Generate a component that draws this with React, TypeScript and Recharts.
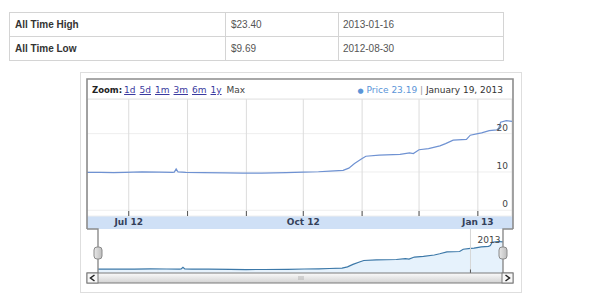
import React from "react";
import {
  LineChart,
  Line,
  AreaChart,
  Area,
  XAxis,
  YAxis,
  CartesianGrid,
  ReferenceLine,
} from "recharts";

// summary table
const statNames = ["All Time High", "All Time Low"];
const statPrices = ["$23.40", "$9.69"];
const statDates = ["2013-01-16", "2012-08-30"];

// header
const zoomLinks = ["1d", "5d", "1m", "3m", "6m", "1y"];
const lastPriceText = "Price 23.19";
const lastDateText = "January 19, 2013";

// price series
const dates = [
  "2012-06-09", "2012-06-16", "2012-06-23", "2012-06-29", "2012-07-08",
  "2012-07-17", "2012-07-24", "2012-07-25", "2012-07-26", "2012-07-27",
  "2012-07-31", "2012-08-09", "2012-08-21", "2012-08-30", "2012-09-09",
  "2012-09-22", "2012-10-01", "2012-10-09", "2012-10-15", "2012-10-22",
  "2012-10-25", "2012-10-28", "2012-11-01", "2012-11-03", "2012-11-10",
  "2012-11-21", "2012-11-26", "2012-11-28", "2012-12-01", "2012-12-06",
  "2012-12-12", "2012-12-15", "2012-12-19", "2012-12-26", "2012-12-28",
  "2013-01-01", "2013-01-03", "2013-01-07", "2013-01-11", "2013-01-12",
  "2013-01-13", "2013-01-16", "2013-01-19",
];
const prices = [
  9.9, 9.88, 9.85, 9.9, 10.0,
  9.95, 9.9, 9.95, 10.8, 10.0,
  9.9, 9.85, 9.78, 9.69, 9.72,
  9.8, 9.95, 10.05, 10.2, 10.4,
  11.0, 12.2, 13.5, 14.1, 14.4,
  14.6, 15.0, 14.8, 15.8, 16.1,
  16.8, 17.4, 18.3, 18.5, 19.6,
  20.0, 20.2, 20.8, 21.0, 21.4,
  23.0, 23.4, 23.19,
];

const monthTicks = [
  "2012-07-01", "2012-08-01", "2012-09-01", "2012-10-01",
  "2012-11-01", "2012-12-01", "2013-01-01",
];
const monthLabels = ["Jul 12", "", "", "Oct 12", "", "", "Jan 13"];
const priceTicks = [0, 10, 20];
const yearMark = "2013-01-01";
const yearLabel = "2013";

const toTime = (s: string) => Date.parse(s + "T00:00:00Z");
const data = dates.map((d, i) => ({ t: toTime(d), price: prices[i] }));
const tickTimes = monthTicks.map(toTime);
const xDomain = [data[0].t, data[data.length - 1].t];
const yearTime = toTime(yearMark);

const FONT = "'DejaVu Sans', Verdana, sans-serif";

const MonthTick = (props: any) => {
  const { x, y, payload } = props;
  const label = monthLabels[tickTimes.indexOf(payload.value)];
  return (
    <g>
      <line x1={x} x2={x} y1={y - 5} y2={y} stroke="#555" />
      {label ? (
        <text
          x={x}
          y={y + 9}
          textAnchor="middle"
          fontSize={9}
          fontWeight="bold"
          fontFamily={FONT}
          fill="#34405a"
        >
          {label}
        </text>
      ) : null}
    </g>
  );
};

const PriceTick = (props: any) => {
  const { y, payload } = props;
  return (
    <text
      x={421}
      y={y - 3}
      textAnchor="end"
      fontSize={9}
      fontFamily={FONT}
      fill="#444"
    >
      {payload.value}
    </text>
  );
};

const YearLabel = (props: any) => {
  const vb = props.viewBox || {};
  return (
    <text
      x={(vb.x || 0) + 7}
      y={(vb.y || 0) + 14}
      fontSize={9}
      fontFamily={FONT}
      fill="#444"
    >
      {yearLabel}
    </text>
  );
};

const cell: React.CSSProperties = {
  border: "1px solid #d4d4d4",
  padding: "0 0 0 5px",
  height: 23,
  fontSize: 10,
  color: "#555",
};

export default function App() {
  return (
    <div
      style={{
        position: "absolute",
        left: 0,
        top: 0,
        width: 600,
        height: 304,
        background: "#fff",
        fontFamily: "'Liberation Sans', Arial, sans-serif",
      }}
    >
      <table
        style={{
          position: "absolute",
          left: 9,
          top: 12,
          width: 495,
          borderCollapse: "collapse",
        }}
      >
        <tbody>
          {statNames.map((n, i) => (
            <tr key={n}>
              <td style={{ ...cell, width: 210, fontWeight: "bold", color: "#333" }}>{n}</td>
              <td style={{ ...cell, width: 107 }}>{statPrices[i]}</td>
              <td style={{ ...cell, paddingLeft: 4 }}>{statDates[i]}</td>
            </tr>
          ))}
        </tbody>
      </table>

      {/* outer light frame */}
      <div
        style={{
          position: "absolute",
          left: 80,
          top: 72,
          width: 440,
          height: 219,
          border: "1px solid #dedede",
        }}
      />

      {/* header */}
      <div
        style={{
          position: "absolute",
          left: 92,
          top: 84,
          fontSize: 9,
          fontFamily: FONT,
          lineHeight: "12px",
          whiteSpace: "nowrap",
          color: "#333",
        }}
      >
        <span style={{ fontWeight: "bold", color: "#222", fontSize: 8.5 }}>Zoom:</span>
        {zoomLinks.map((z) => (
          <span
            key={z}
            style={{ marginLeft: z === "1d" ? 2 : 4, color: "#3a3aa0", textDecoration: "underline" }}
          >
            {z}
          </span>
        ))}
        <span style={{ marginLeft: 5, color: "#444" }}>Max</span>
      </div>
      <div
        style={{
          position: "absolute",
          right: 97,
          top: 84,
          fontSize: 9,
          fontFamily: FONT,
          lineHeight: "12px",
          whiteSpace: "nowrap",
          color: "#333",
          textAlign: "right",
        }}
      >
        <span style={{ color: "#5b95d8", fontSize: 7, marginRight: 3 }}>●</span>
        <span style={{ color: "#5b95d8" }}>{lastPriceText}</span>
        <span style={{ color: "#999" }}> | </span>
        <span>{lastDateText}</span>
      </div>

      {/* x-axis band */}
      <div
        style={{
          position: "absolute",
          left: 87,
          top: 216,
          width: 426,
          height: 13,
          background: "#cfe0f6",
        }}
      />

      <div style={{ position: "absolute", left: 87, top: 99 }}>
        <LineChart
          width={426}
          height={128}
          data={data}
          margin={{ top: 0, right: 0, bottom: 0, left: 0 }}
        >
          <CartesianGrid vertical={false} stroke="#eeeeee" />
          <CartesianGrid horizontal={false} stroke="#dcdcdc" />
          <XAxis
            dataKey="t"
            type="number"
            domain={xDomain}
            ticks={tickTimes}
            interval={0}
            height={11}
            tickSize={0}
            tickMargin={0}
            axisLine={false}
            tickLine={false}
            tick={<MonthTick />}
          />
          <YAxis
            type="number"
            orientation="right"
            width={1}
            domain={[-1.5, 29.05]}
            ticks={priceTicks}
            interval={0}
            allowDataOverflow
            axisLine={false}
            tickLine={false}
            tick={<PriceTick />}
          />
          <Line
            type="linear"
            dataKey="price"
            stroke="#6f92d2"
            strokeWidth={1.2}
            dot={false}
            isAnimationActive={false}
          />
        </LineChart>
      </div>

      <div style={{ position: "absolute", left: 98, top: 229 }}>
        <AreaChart
          width={405}
          height={44}
          data={data}
          margin={{ top: 0, right: 0, bottom: 0, left: 0 }}
        >
          <XAxis dataKey="t" type="number" domain={xDomain} hide />
          <YAxis domain={[8, 29.5]} hide allowDataOverflow />
          <ReferenceLine x={yearTime} stroke="#d6d6d6" label={<YearLabel />} />
          <Area
            type="linear"
            dataKey="price"
            stroke="#3c78a8"
            strokeWidth={1.2}
            fill="#e6f2fc"
            fillOpacity={1}
            isAnimationActive={false}
          />
          <ReferenceLine
            segment={[
              { x: yearTime, y: 8 },
              { x: yearTime, y: 9.7 },
            ]}
            stroke="#555"
          />
        </AreaChart>
      </div>

      {/* frame, handles, scrollbar */}
      <svg
        width={600}
        height={304}
        style={{ position: "absolute", left: 0, top: 0, pointerEvents: "none" }}
      >
        <defs>
          <linearGradient id="track" x1="0" y1="0" x2="0" y2="1">
            <stop offset="0" stopColor="#fbfbfb" />
            <stop offset="1" stopColor="#d2d2d2" />
          </linearGradient>
          <linearGradient id="handle" x1="0" y1="0" x2="1" y2="0">
            <stop offset="0" stopColor="#e8e8e8" />
            <stop offset="1" stopColor="#bdbdbd" />
          </linearGradient>
        </defs>
        <line x1={88} x2={512} y1={99} y2={99} stroke="#e2e2e2" />
        <path
          d="M87,229 V79 H513 V229"
          fill="none"
          stroke="#8c8c8c"
          strokeWidth={1.6}
        />
        <path d="M87,229 H98 V273" fill="none" stroke="#8c8c8c" strokeWidth={1.4} />
        <path d="M513,229 H503 V273" fill="none" stroke="#8c8c8c" strokeWidth={1.4} />
        <rect x={94} y={247} width={8} height={12} rx={3} fill="url(#handle)" stroke="#8a8a8a" />
        <rect x={499} y={247} width={8} height={12} rx={3} fill="url(#handle)" stroke="#8a8a8a" />
        <rect x={87} y={273} width={426} height={10} fill="url(#track)" stroke="#7a7a7a" />
        <rect x={87} y={273} width={11} height={10} fill="#f7f7f7" stroke="#7a7a7a" />
        <rect x={502} y={273} width={11} height={10} fill="#f7f7f7" stroke="#7a7a7a" />
        <path d="M94.5,275 L90.5,278 L94.5,281" fill="none" stroke="#222" strokeWidth={1.5} />
        <path d="M505.5,275 L509.5,278 L505.5,281" fill="none" stroke="#222" strokeWidth={1.5} />
        <path d="M299,276 V280 M301,276 V280 M303,276 V280" stroke="#b5b5b5" />
      </svg>
    </div>
  );
}
